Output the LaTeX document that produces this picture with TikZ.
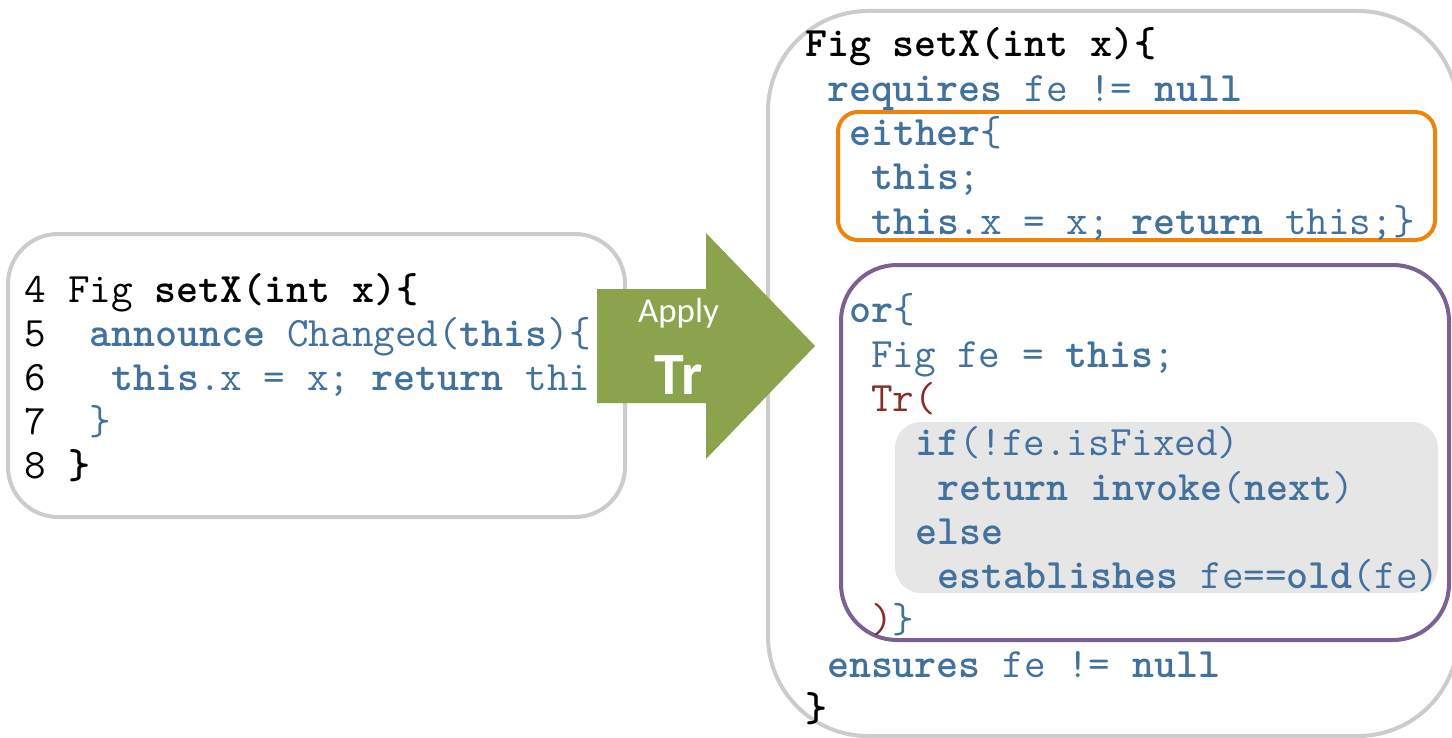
\documentclass[tikz,border=0pt]{standalone}
\usepackage{fontspec}
\newfontfamily\applyfont{Carlito}
\definecolor{codeblue}{RGB}{65,113,156}
\definecolor{codered}{RGB}{135,45,38}
\definecolor{boxgray}{RGB}{204,204,204}
\definecolor{fillgray}{RGB}{230,230,230}
\definecolor{boxorange}{RGB}{238,130,10}
\definecolor{boxpurple}{RGB}{123,96,146}
\definecolor{arrowgreen}{RGB}{138,163,76}
\newcommand\kw[1]{\textbf{#1}}
\tikzset{
  codeline/.style={anchor=base west, inner sep=0pt, outer sep=0pt,
    font=\ttfamily\fontsize{20.95}{24}\selectfont, text=codeblue},
  blackline/.style={codeline, text=black},
  outerbox/.style={draw=boxgray, line width=2pt},
}
\begin{document}
\begin{tikzpicture}[x=0.5pt,y=-0.5pt]
\useasboundingbox (0,0) rectangle (1452,738);
% left box
\draw[outerbox, rounded corners=25pt] (8,234) rectangle (625,517);
\node[blackline] (l4) at (25,302) {4 Fig \textbf{setX(int x)\{}};
\node[codeline] (l5) at (25,346) {\textcolor{black}{5}~~\kw{announce} Changed(\kw{this})\{};
\node[codeline] (l6) at (25,390) {\textcolor{black}{6}~~~\kw{this}.x = x; \kw{return} thi};
\node[codeline] (l7) at (25,434) {\textcolor{black}{7}~~\}};
\node[blackline] (l8) at (25,478) {8 \textbf{\}}};
% right box
\draw[outerbox, rounded corners=50pt] (768,11) rectangle (1458,736);
\draw[draw=boxorange, line width=2pt, rounded corners=10pt] (838,112) rectangle (1435,240);
\draw[draw=boxpurple, line width=2pt, rounded corners=28pt] (841,265) rectangle (1449,640);
\fill[fillgray, rounded corners=13pt] (895,422) rectangle (1438,593);
\node[blackline] (r0) at (805,57) {\textbf{Fig setX(int x)\{}};
\node[codeline] (r1) at (827,101.3) {\kw{requires} fe != \kw{null}};
\node[codeline] (r2) at (849,145.6) {\kw{either}\{};
\node[codeline] (r3) at (871,189.9) {\kw{this};};
\node[codeline] (r4) at (871,234.2) {\kw{this}.x = x; \kw{return} this;\}};
\node[codeline] (r6) at (849,322.8) {\kw{or}\{};
\node[codeline] (r7) at (871,367.1) {Fig fe = \kw{this};};
\node[codeline, text=codered] (r8) at (871,411.4) {Tr(};
\node[codeline] (r9) at (915,455.7) {\kw{if}(!fe.isFixed)};
\node[codeline] (r10) at (937,500) {\kw{return} \kw{invoke}(\kw{next})};
\node[codeline] (r11) at (915,544.3) {\kw{else}};
\node[codeline] (r12) at (937,588.6) {\kw{establishes} fe==\kw{old}(fe)};
\node[codeline] (r13) at (871,632.9) {\textcolor{codered}{)}\}};
\node[codeline] (r14) at (827,677.2) {\kw{ensures} fe != \kw{null}};
\node[blackline] (r15) at (805,721.5) {\textbf{\}}};
% arrow
\fill[arrowgreen] (597,289) -- (706,289) -- (706,233) -- (815,346) -- (706,459) -- (706,403) -- (597,403) -- cycle;
\node[anchor=base, inner sep=0pt, text=white, font=\applyfont\fontsize{17.5}{20}\selectfont] (apply) at (678.5,322) {Apply};
\node[anchor=base, inner sep=0pt, text=white, font=\applyfont\bfseries\fontsize{30}{34}\selectfont] (tr) at (678.5,394) {Tr};
\end{tikzpicture}
\end{document}
